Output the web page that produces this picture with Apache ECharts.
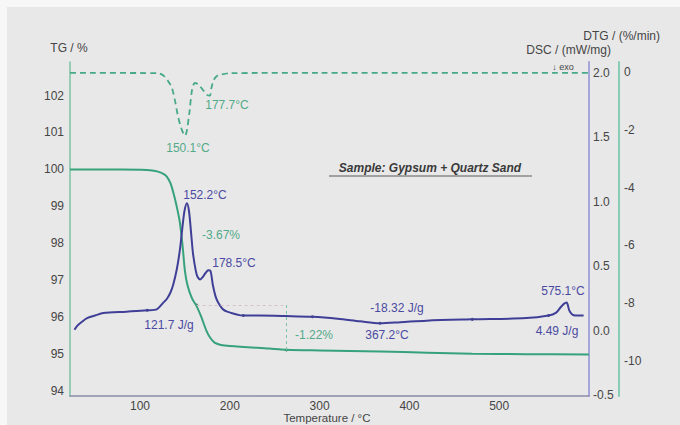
<!DOCTYPE html>
<html>
<head>
<meta charset="utf-8">
<script src="https://cdn.jsdelivr.net/npm/echarts@6/dist/echarts.min.js"></script>
<style>
html,body{margin:0;padding:0;background:#f7f7f7;}
#main{width:680px;height:425px;}
</style>
</head>
<body>
<div id="main"></div>
<script>
// ---- data ----
var tempTicks = [100, 200, 300, 400, 500];
var tgTicks = [94, 95, 96, 97, 98, 99, 100, 101, 102];
var dscTicks = [-0.5, 0.0, 0.5, 1.0, 1.5, 2.0];
var dtgTicks = [0, -2, -4, -6, -8, -10];

var tgTemp = [22, 60, 100, 111, 120, 126, 130, 134, 137, 141, 144.4, 147.5, 150, 153, 158, 163, 168, 174, 178, 183, 190, 200, 244, 263, 300, 367, 420, 470, 530, 600];
var tgValue = [100, 100, 99.99, 99.98, 99.94, 99.88, 99.8, 99.62, 99.38, 98.98, 98.56, 97.9, 97.25, 96.85, 96.5, 96.3, 96.02, 95.63, 95.45, 95.31, 95.25, 95.22, 95.15, 95.12, 95.1, 95.07, 95.04, 95.01, 95.0, 94.99];

var dscTemp = [27, 30, 35, 41, 50, 59, 85, 108, 119, 126, 130, 134, 137, 141, 144.4, 147, 149.5, 152.2, 154.5, 157, 159, 162, 164, 167, 170, 173, 176, 178.5, 181, 184, 187, 192, 197, 215, 233, 263, 292, 320, 345, 367.2, 390, 419, 470, 530, 555, 563, 568, 572, 575.1, 578, 581, 585, 594];
var dscValue = [0.01, 0.04, 0.07, 0.10, 0.12, 0.14, 0.15, 0.16, 0.17, 0.22, 0.25, 0.30, 0.36, 0.48, 0.63, 0.79, 0.93, 0.99, 0.93, 0.75, 0.6, 0.47, 0.42, 0.40, 0.42, 0.45, 0.47, 0.465, 0.36, 0.27, 0.22, 0.17, 0.15, 0.12, 0.12, 0.116, 0.11, 0.095, 0.075, 0.06, 0.068, 0.08, 0.09, 0.10, 0.12, 0.14, 0.18, 0.21, 0.22, 0.16, 0.13, 0.12, 0.12];

var dtgTemp = [22, 120, 126, 131, 135.5, 139, 142, 146, 150.1, 152, 155, 158, 161, 165, 170, 174, 177.7, 179.5, 182, 186, 191, 200, 300, 600];
var dtgValue = [-0.03, -0.04, -0.12, -0.3, -0.55, -1.0, -1.49, -1.95, -2.2, -2.05, -1.4, -0.6, -0.38, -0.43, -0.62, -0.78, -0.82, -0.55, -0.28, -0.13, -0.08, -0.04, -0.03, -0.03];

var dscMarkTemp = [108, 215, 292, 367.2, 470, 555];
var dscMarkValue = [0.16, 0.12, 0.11, 0.06, 0.09, 0.12];
var tgMarkTemp = [163, 263];
var tgMarkValue = [96.33, 95.11];

function pairs(xs, ys) { return xs.map(function (x, i) { return [x, ys[i]]; }); }

var FONT = 'Liberation Sans, Arial, sans-serif';
var cDSC = '#3f3f97', cTG = '#36a27b', cDTG = '#47a98a';
var cLblG = '#52aa88', cLblB = '#4a4aa2', cTxt = '#454545';

var chart = echarts.init(document.getElementById('main'), null, { renderer: 'svg' });

function yAxisBase(o) {
  return Object.assign({
    type: 'value', scale: false,
    splitLine: { show: false },
    axisTick: { show: false }
  }, o);
}

function txt(text, x, y, color, extra) {
  return {
    type: 'text', x: x, y: y,
    style: Object.assign({ text: text, fill: color, font: '12px ' + FONT, textAlign: 'center', textVerticalAlign: 'middle' }, extra || {})
  };
}

var option = {
  backgroundColor: '#f7f7f7',
  animation: false,
  grid: { left: 70, right: 91, top: 62, bottom: 29, containLabel: false },
  graphic: [
    { type: 'rect', shape: { x: 7, y: 7, width: 673, height: 418 }, style: { fill: '#e8e8e8' }, z: -10, silent: true },
    txt('TG / %', 69, 48, cTxt),
    txt('DTG / (%/min)', 660, 36, cTxt, { textAlign: 'right' }),
    txt('DSC / (mW/mg)', 611, 50, cTxt, { textAlign: 'right' }),
    txt('↓ exo', 563, 67, cTxt, { font: '9px ' + FONT }),
    txt('Temperature / °C', 327, 418, cTxt, { font: '11.5px ' + FONT }),
    txt('Sample: Gypsum + Quartz Sand', 430, 168, '#3a3a3a', { font: 'italic bold 12px ' + FONT }),
    { type: 'line', shape: { x1: 329, y1: 176, x2: 532, y2: 176 }, style: { stroke: '#5a5a5a', lineWidth: 1 } },
    txt('177.7°C', 227, 105, cLblG),
    txt('150.1°C', 188, 148, cLblG),
    txt('152.2°C', 205, 195, cLblB),
    txt('-3.67%', 221, 235, cLblG),
    txt('178.5°C', 234, 263, cLblB),
    txt('121.7 J/g', 169, 325, cLblB),
    txt('-1.22%', 314, 335, cLblG),
    txt('-18.32 J/g', 397, 308, cLblB),
    txt('367.2°C', 387, 335, cLblB),
    txt('575.1°C', 563, 291, cLblB),
    txt('4.49 J/g', 557, 331, cLblB)
  ],
  xAxis: {
    type: 'value', min: 22, max: 600,
    splitLine: { show: false },
    axisLine: { show: true, onZero: false, lineStyle: { color: '#8a8aab', width: 1.5 } },
    axisTick: { show: false },
    axisLabel: { customValues: tempTicks, fontFamily: FONT, fontSize: 12, color: cTxt, margin: 4 }
  },
  yAxis: [
    yAxisBase({
      position: 'left', min: 93.867, max: 102.907,
      axisLine: { show: true, onZero: false, lineStyle: { color: '#7cc3a5', width: 1.5 } },
      axisLabel: { customValues: tgTicks, fontFamily: FONT, fontSize: 12, color: cTxt, margin: 6 }
    }),
    yAxisBase({
      position: 'right', min: -0.504, max: 2.085,
      axisLine: { show: true, onZero: false, lineStyle: { color: '#a6a6da', width: 2 } },
      axisLabel: { customValues: dscTicks, fontFamily: FONT, fontSize: 12, color: cTxt, margin: 4,
        formatter: function (v) { return v.toFixed(1); } }
    }),
    yAxisBase({
      position: 'right', offset: 30, min: -11.21, max: 0.346,
      axisLine: { show: true, onZero: false, lineStyle: { color: '#86cdb3', width: 2 } },
      axisLabel: { customValues: dtgTicks, fontFamily: FONT, fontSize: 12, color: cTxt, margin: 5 }
    })
  ],
  series: [
    {
      name: 'DTG', type: 'line', yAxisIndex: 2, showSymbol: false, smooth: 0.3,
      data: pairs(dtgTemp, dtgValue),
      lineStyle: { color: cDTG, width: 1.8, type: [6, 4] }
    },
    {
      name: 'TG', type: 'line', yAxisIndex: 0, showSymbol: false, smooth: 0.3,
      data: pairs(tgTemp, tgValue),
      lineStyle: { color: cTG, width: 2 },
      markLine: {
        silent: true, symbol: 'none', label: { show: false },
        lineStyle: { color: '#7cc3a5', type: [3, 3], width: 1 },
        data: [
          [{ coord: [tgMarkTemp[1], tgMarkValue[0]] }, { coord: [tgMarkTemp[1], tgMarkValue[1]] }],
          [{ coord: [tgMarkTemp[0], tgMarkValue[0]], lineStyle: { color: '#d8c0c8', type: [3, 3] } }, { coord: [tgMarkTemp[1], tgMarkValue[0]] }]
        ]
      }
    },
    {
      name: 'DSC', type: 'line', yAxisIndex: 1, showSymbol: false, smooth: 0.3,
      data: pairs(dscTemp, dscValue),
      lineStyle: { color: cDSC, width: 2 }
    },
    {
      name: 'DSC marks', type: 'scatter', yAxisIndex: 1, symbolSize: 3,
      data: pairs(dscMarkTemp, dscMarkValue),
      itemStyle: { color: '#2a2a70' }
    },
    {
      name: 'TG marks', type: 'scatter', yAxisIndex: 0, symbolSize: 3,
      data: pairs(tgMarkTemp, tgMarkValue),
      itemStyle: { color: '#2a7050' }
    }
  ]
};
chart.setOption(option);
</script>
</body>
</html>
